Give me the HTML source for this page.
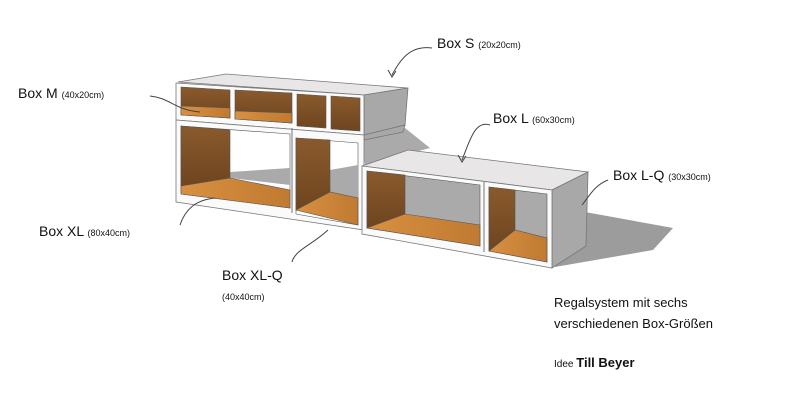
<!DOCTYPE html>
<html><head><meta charset="utf-8"><style>
html,body{margin:0;padding:0;background:#fff;width:800px;height:400px;overflow:hidden}
svg{display:block}
text{font-family:"Liberation Sans",sans-serif;fill:#111}
</style></head><body>
<svg width="800" height="400" viewBox="0 0 800 400">
<defs>
<linearGradient id="w" x1="0" y1="0" x2="0" y2="1"><stop offset="0" stop-color="#8a5a2c"/><stop offset="1" stop-color="#6e4520"/></linearGradient>
<linearGradient id="f" x1="0" y1="0" x2="1" y2="0"><stop offset="0" stop-color="#d89040"/><stop offset="1" stop-color="#c07a32"/></linearGradient>
</defs>
<!-- shadows -->
<polygon points="585,212 673,228 653,250 555,267" fill="#9c9c9c"/>
<polygon points="405,128 430,148 365,165 362,140" fill="#aaa"/>
<!-- top row -->
<polygon points="178,82 226,74 408,88 364,95" fill="#e8e6e6" stroke="#777" stroke-width="0.8"/>
<polygon points="364,95 408,88 405,125 364,135" fill="#a8a8a8" stroke="#777" stroke-width="0.8"/>
<polygon points="176,83 364,95 364,135 176,120" fill="#fafafa" stroke="#777" stroke-width="0.8"/>
<g stroke="#555" stroke-width="0.6">
<polygon points="181,87 230,90 230,118 181,115" fill="url(#w)"/>
<polygon points="235,90 292,93 292,123 235,119" fill="url(#w)"/>
<polygon points="297,94 326,96 326,128 297,126" fill="url(#w)"/>
<polygon points="331,96 360,98 360,131 331,129" fill="url(#w)"/>
<polygon points="181,106 230,108 230,118 181,115" fill="url(#f)"/>
<polygon points="235,111 292,113 292,123 235,119" fill="url(#f)"/>
</g>
<!-- lower row XL, XL-Q -->
<polygon points="364,135 405,125 403,132 364,140" fill="#a8a8a8" stroke="#777" stroke-width="0.8"/>
<polygon points="176,120 364,135 364,230 176,202" fill="#fafafa" stroke="#777" stroke-width="0.8"/>
<g stroke="#555" stroke-width="0.6">
<polygon points="181,126 290,134 290,208 181,194" fill="#fff"/>
<polygon points="230,172 290,168 290,185 230,178" fill="#aaa" stroke="none"/>
<polygon points="181,126 230,130 230,178 181,186" fill="url(#w)"/>
<polygon points="181,186 230,178 290,190 290,208 181,194" fill="url(#f)"/>
<polygon points="296,138 358,143 358,225 296,214" fill="#fff"/>
<polygon points="330,170 358,165 358,200 330,192" fill="#aaa" stroke="none"/>
<polygon points="296,138 330,140 330,192 296,210" fill="url(#w)"/>
<polygon points="296,210 330,192 358,198 358,225" fill="url(#f)"/>
</g>
<!-- right row L, L-Q -->
<polygon points="362,166 408,150 588,172 552,190" fill="#e8e6e6" stroke="#777" stroke-width="0.8"/>
<polygon points="552,190 588,172 586,246 552,268" fill="#a8a8a8" stroke="#777" stroke-width="0.8"/>
<polygon points="362,166 552,190 552,268 362,234" fill="#fafafa" stroke="#777" stroke-width="0.8"/>
<g stroke="#555" stroke-width="0.6">
<polygon points="367,171 480,185 480,246 367,228" fill="#aaa"/>
<polygon points="367,171 405,175 405,214 367,228" fill="url(#w)"/>
<polygon points="367,228 405,214 480,225 480,246" fill="url(#f)"/>
<polygon points="489,187 547,194 547,262 489,251" fill="#aaa"/>
<polygon points="489,187 515,190 515,230 489,251" fill="url(#w)"/>
<polygon points="489,251 515,230 547,238 547,262" fill="url(#f)"/>
</g>
<line x1="484" y1="182" x2="484" y2="252" stroke="#777"/>
<line x1="292" y1="128" x2="292" y2="213" stroke="#777"/>
<!-- arrows -->
<g fill="none" stroke="#444" stroke-width="1">
<path d="M432,48 C410,45 400,60 392,75"/><path d="M388,70 L392,77 L396,71"/>
<path d="M150,96 C170,98 175,110 200,112"/>
<path d="M490,125 C475,120 470,140 462,160"/><path d="M458,155 L462,162 L466,156"/>
<path d="M608,180 C595,185 590,195 582,205"/>
<path d="M180,225 C185,210 195,200 215,198"/>
<path d="M292,262 C295,250 312,245 328,230"/>
</g>
<text x="437" y="48" font-size="14">Box S <tspan font-size="9">(20x20cm)</tspan></text>
<text x="18" y="98" font-size="14">Box M <tspan font-size="9">(40x20cm)</tspan></text>
<text x="493" y="123" font-size="14">Box L <tspan font-size="9">(60x30cm)</tspan></text>
<text x="613" y="180" font-size="14">Box L-Q <tspan font-size="9">(30x30cm)</tspan></text>
<text x="39" y="236" font-size="14">Box XL <tspan font-size="9">(80x40cm)</tspan></text>
<text x="222" y="280" font-size="14">Box XL-Q</text>
<text x="222" y="300" font-size="9">(40x40cm)</text>
<text x="554" y="307" font-size="13">Regalsystem mit sechs</text>
<text x="554" y="328" font-size="13">verschiedenen Box-Größen</text>
<text x="554" y="367" font-size="10">Idee <tspan font-size="13" font-weight="bold">Till Beyer</tspan></text>
</svg>
</body></html>
